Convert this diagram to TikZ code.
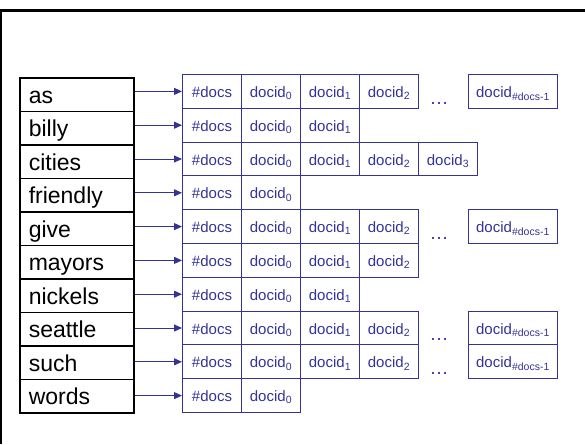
\documentclass[tikz,border=0pt]{standalone}
\usepackage{fontspec}
\setmainfont{Liberation Sans}
\usetikzlibrary{arrows.meta}
\definecolor{postblue}{RGB}{51,51,153}
\begin{document}
\begin{tikzpicture}[x=1pt,y=-1pt,
  wordbox/.style={draw=black,line width=1.5pt,minimum width=114pt,minimum height=33.5pt,
    anchor=north west,inner sep=0pt,text width=108pt,align=left,
    text height=17pt,text depth=0pt,
    font=\fontsize{23}{27}\selectfont},
  cellbox/.style={draw=postblue,line width=1pt,minimum width=59pt,minimum height=33.8pt,
    anchor=north west,inner sep=0pt,text height=12pt,text depth=0pt,
    text=postblue,font=\fontsize{15}{17}\selectfont},
  lastbox/.style={cellbox,minimum width=89pt},
  dotsbox/.style={text=postblue,inner sep=0pt,anchor=base,font=\fontsize{19}{21}\selectfont},
  link/.style={draw=postblue,line width=1pt,-{Triangle[length=8pt,width=7pt]}}]
\useasboundingbox (0,0) rectangle (585,444);
% page frame: top and left rule
\draw[line width=2.5pt] (1,444) -- (1,10.5) -- (585,10.5);

\foreach \w [count=\i from 0] in {as,billy,cities,friendly,give,mayors,nickels,seattle,such,words}
  \node[wordbox] (w\i) at (19,77+33.5*\i) {\hspace*{6pt}\w};

\newcommand{\cellx}[1]{\ifcase#1 182\or 241\or 300\or 359\or 418\or 478\fi}
\newcommand{\dc}[1]{docid\textsubscript{#1}}

% posting lists
\foreach \r/\n/\far in {0/4/1,1/3/0,2/5/0,3/2/0,4/4/1,5/4/0,6/3/0,7/4/1,8/4/1,9/2/0}{
  \pgfmathsetmacro{\ytop}{74+33.8*\r}
  \node[cellbox] (p\r-0) at (182,\ytop) {\#docs};
  \foreach \c in {1,...,\numexpr\n-1\relax}{
    \pgfmathtruncatemacro{\k}{\c-1}
    \node[cellbox] (p\r-\c) at (\cellx{\c},\ytop) {\dc{\k}};
  }
  \ifnum\far=1
    \node[dotsbox] (dots\r) at (439,\ytop+30) {\dots};
    \node[lastbox] (p\r-last) at (468,\ytop) {\dc{\#docs-1}};
  \fi
  \draw[link] (w\r.east |- p\r-0.west) -- (p\r-0.west);
}
\end{tikzpicture}
\end{document}
